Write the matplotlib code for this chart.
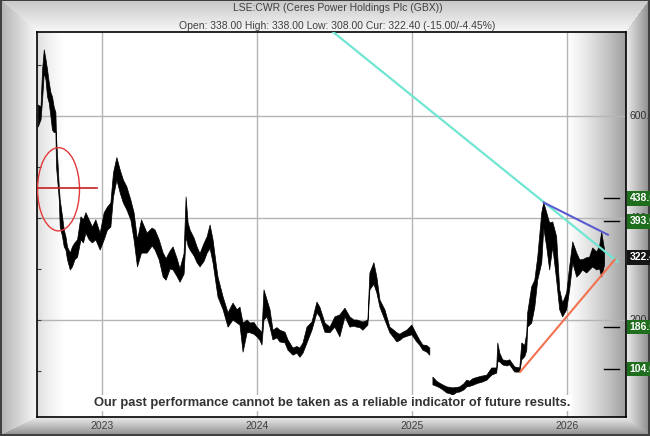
import matplotlib.pyplot as plt
from matplotlib.patches import Ellipse
import numpy as np

plt.rcParams['font.family'] = ['Liberation Sans', 'DejaVu Sans']

title = "LSE:CWR (Ceres Power Holdings Plc (GBX))"
subtitle = "Open: 338.00 High: 338.00 Low: 308.00 Cur: 322.40 (-15.00/-4.45%)"
disclaimer = "Our past performance cannot be taken as a reliable indicator of future results."

# daily range (decimal years, GBX)
dates = [2022.587, 2022.605, 2022.615, 2022.626, 2022.637, 2022.647, 2022.658, 2022.669, 2022.679, 2022.690,
         2022.701, 2022.705, 2022.716, 2022.723, 2022.729, 2022.744, 2022.755, 2022.766, 2022.776, 2022.794,
         2022.808, 2022.824, 2022.841, 2022.863, 2022.879, 2022.895, 2022.916, 2022.937, 2022.959, 2022.987,
         2023.013, 2023.034, 2023.056, 2023.073, 2023.095, 2023.116, 2023.137, 2023.159, 2023.185, 2023.206,
         2023.228, 2023.254, 2023.290, 2023.323, 2023.342, 2023.368, 2023.394, 2023.413, 2023.439, 2023.458,
         2023.484, 2023.503, 2023.529, 2023.542, 2023.555, 2023.568, 2023.594, 2023.613, 2023.632, 2023.658,
         2023.678, 2023.697, 2023.716, 2023.736, 2023.748, 2023.781, 2023.813, 2023.845, 2023.871, 2023.890,
         2023.910, 2023.936, 2023.955, 2023.981, 2024.000, 2024.019, 2024.032, 2024.045, 2024.065, 2024.084,
         2024.103, 2024.129, 2024.148, 2024.181, 2024.200, 2024.232, 2024.258, 2024.277, 2024.297, 2024.323,
         2024.355, 2024.387, 2024.406, 2024.439, 2024.471, 2024.503, 2024.535, 2024.568, 2024.600, 2024.626,
         2024.645, 2024.665, 2024.684, 2024.703, 2024.716, 2024.729, 2024.755, 2024.774, 2024.794, 2024.826,
         2024.858, 2024.884, 2024.903, 2024.923, 2024.942, 2024.968, 2025.000, 2025.032, 2025.052, 2025.071,
         2025.097, 2025.116, 2025.126, 2025.136, 2025.161, 2025.181, 2025.206, 2025.226, 2025.245, 2025.265,
         2025.290, 2025.310, 2025.336, 2025.355, 2025.374, 2025.394, 2025.426, 2025.452, 2025.484, 2025.516,
         2025.548, 2025.555, 2025.568, 2025.587, 2025.613, 2025.632, 2025.665, 2025.697, 2025.710, 2025.729,
         2025.742, 2025.748, 2025.774, 2025.794, 2025.813, 2025.839, 2025.852, 2025.871, 2025.890, 2025.910,
         2025.935, 2025.955, 2025.974, 2026.000, 2026.019, 2026.039, 2026.065, 2026.084, 2026.103, 2026.129,
         2026.148, 2026.168, 2026.194, 2026.213, 2026.226, 2026.245]
highs = [621, 617, 690, 729, 710, 690, 665, 645, 637, 617,
         606, 557, 500, 459, 435, 402, 376, 363, 343, 331,
         343, 351, 357, 402, 396, 410, 396, 382, 396, 370,
         410, 421, 429, 488, 518, 494, 474, 461, 435, 410,
         357, 396, 370, 380, 376, 357, 331, 320, 335, 343,
         320, 300, 330, 441, 390, 376, 360, 343, 330, 350,
         363, 386, 357, 310, 284, 245, 214, 233, 220, 225,
         194, 200, 194, 195, 186, 180, 175, 259, 239, 220,
         180, 185, 180, 176, 161, 145, 148, 145, 155, 186,
         196, 235, 225, 194, 186, 206, 210, 223, 206, 200,
         200, 198, 196, 198, 200, 292, 312, 284, 239, 220,
         186, 180, 175, 172, 176, 180, 190, 171, 160, 151,
         150, 145, np.nan, 88, 80, 76, 72, 69, 68, 67,
         68, 69, 75, 82, 80, 85, 88, 90, 92, 106,
         106, 155, 135, 122, 120, 122, 108, 106, 155, 150,
         174, 214, 265, 278, 323, 410, 430, 410, 390, 392,
         363, 259, 233, 253, 304, 353, 331, 318, 318, 322,
         323, 341, 333, 345, 372, 337]
lows = [578, 592, 631, 684, 670, 637, 625, 598, 572, 567,
        568, 500, 461, 435, 382, 363, 343, 337, 318, 298,
        304, 318, 323, 357, 351, 370, 357, 351, 357, 337,
        357, 376, 382, 441, 474, 449, 429, 416, 396, 357,
        304, 331, 331, 345, 337, 318, 284, 278, 300, 298,
        285, 274, 290, 363, 345, 337, 325, 312, 304, 315,
        331, 340, 312, 270, 245, 220, 186, 200, 194, 190,
        137, 175, 175, 172, 167, 160, 151, 200, 206, 186,
        161, 165, 157, 155, 141, 131, 135, 127, 135, 155,
        180, 214, 206, 176, 175, 186, 167, 206, 186, 188,
        186, 185, 180, 186, 190, 259, 270, 253, 225, 200,
        175, 165, 157, 160, 165, 168, 171, 157, 150, 141,
        137, 131, np.nan, 73, 70, 67, 62, 57, 56, 53,
        58, 59, 63, 69, 70, 72, 76, 78, 82, 92,
        96, 118, 118, 112, 110, 112, 98, 98, 122, 128,
        140, 186, 194, 225, 278, 312, 380, 343, 298, 343,
        278, 220, 206, 220, 259, 312, 284, 290, 298, 292,
        298, 304, 298, 300, 284, 308]

years = [2023, 2024, 2025, 2026]
grid_levels = [200, 400, 600]
right_labels = ["200.00", "400.00", "600.00"]
minor_levels = [100, 200, 300, 400, 500, 600, 700]

target_levels = [438.0, 393.0, 186.0, 104.0]
target_labels = ["438.00", "393.00", "186.00", "104.00"]
current = 322.40

cyan_x, cyan_y = [2024.471, 2026.329], [769, 314]
blue_x, blue_y = [2025.852, 2026.266], [430, 367]
red_x, red_y = [2025.701, 2026.310], [99, 318]

W, H = 650, 436
L, T, R, B = 37, 32, 626, 417


def frame_image():
    yy, xx = np.mgrid[0:H, 0:W].astype(float)
    d = np.stack([xx / L, yy / T, (W - 1 - xx) / (W - R), (H - 1 - yy) / (H - B)])
    side = d.argmin(axis=0)
    n = np.clip(d.min(axis=0), 0, 1)
    outer = np.array([0.70, 0.78, 0.55, 0.55])[side]
    inner = np.array([0.97, 0.97, 0.93, 0.94])[side]
    img = outer + (inner - outer) * n
    img[:2, :] = 0.25
    img[-2:, :] = 0.25
    img[:, :2] = 0.25
    img[:, -2:] = 0.25
    return img


fig = plt.figure(figsize=(6.5, 4.36), dpi=100)
bg = fig.add_axes([0, 0, 1, 1])
bg.imshow(frame_image(), extent=[0, 1, 0, 1], aspect='auto', cmap='gray', vmin=0, vmax=1)
bg.axis('off')

ax = fig.add_axes([L / W, 1 - B / H, (R - L) / W, (B - T) / H])
xs = np.arange(R - L, dtype=float)
grad = np.ones(R - L)
grad = np.where(xs < 28, 0.86 + 0.14 * (xs / 28) ** 0.7, grad)
grad = np.where(xs > 528, 1 - 0.38 * ((xs - 528) / (R - L - 528)) ** 1.3, grad)
ax.imshow(grad[None, :], extent=[0, 1, 0, 1], transform=ax.transAxes, aspect='auto',
          cmap='gray', vmin=0, vmax=1, zorder=0, interpolation='bilinear')

for y in grid_levels:
    ax.axhline(y, color='#b4b4b4', lw=1, zorder=1)
for yr in years:
    ax.axvline(yr, color='#b4b4b4', lw=1, zorder=1)

ax.fill_between(dates, lows, highs, color='black', lw=0.5, zorder=3)

ax.plot(cyan_x, cyan_y, color='#70e6d2', lw=1.6, zorder=4)
ax.plot(blue_x, blue_y, color='#5b5bd0', lw=1.5, zorder=4)
ax.plot(red_x, red_y, color='#f2714e', lw=1.5, zorder=4)

ax.add_patch(Ellipse((2022.718, 456), 0.271, 163, fill=False, ec='#e03a3a', lw=1, zorder=4))
ax.plot([2022.579, 2022.966], [459, 459], color='#c82020', lw=1.2, zorder=4)

ax.set_xlim(2022.579, 2026.383)
ax.set_ylim(10, 764)

ax.set_xticks(years)
ax.set_xticklabels([str(y) for y in years])
ax.tick_params(axis='x', length=0, pad=3, labelsize=7.5, labelcolor='#404040')
ax.set_yticks(minor_levels)
ax.tick_params(axis='y', direction='in', length=3, labelleft=False, color='#404040')
for s in ax.spines.values():
    s.set_color('black')
    s.set_linewidth(1.2)

tr = ax.get_yaxis_transform()
for lv, lab in zip(grid_levels, right_labels):
    ax.text(1.006, lv, lab, transform=tr, fontsize=7.5, color='#303030',
            va='center', ha='left', clip_on=False, zorder=5)

for lv, lab in zip(target_levels, target_labels):
    ax.plot([2026.239, 2026.336], [lv, lv], color='black', lw=1, zorder=4, clip_on=False)
    ax.text(1.006, lv, lab, transform=tr, fontsize=7.5, color='white', weight='bold',
            va='center', ha='left', clip_on=False, zorder=6,
            bbox=dict(boxstyle='square,pad=0.2', fc='#1e6e1e', ec='none'))
ax.text(1.006, current, "322.40", transform=tr, fontsize=7.5, color='white', weight='bold',
        va='center', ha='left', clip_on=False, zorder=6,
        bbox=dict(boxstyle='square,pad=0.2', fc='#151515', ec='none'))

ax.text(0.501, 0.036, disclaimer, transform=ax.transAxes, ha='center', va='center',
        fontsize=9.3, weight='bold', color='#333333', zorder=7,
        bbox=dict(boxstyle='square,pad=0.15', fc='white', ec='none'))

fig.text(0.519, 1 - 8 / H, title, ha='center', va='center', fontsize=7.5, color='#404040')
fig.text(0.518, 1 - 26 / H, subtitle, ha='center', va='center', fontsize=7.5, color='#404040')

fig.savefig('out.png', dpi=100)
